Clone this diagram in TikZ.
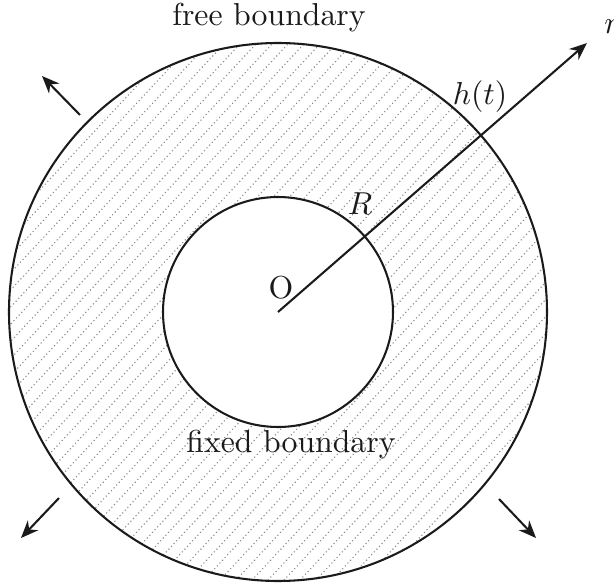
\documentclass[tikz,border=0pt]{standalone}
\usepackage{amsmath,amssymb}
\usepackage{xcolor}
\usepackage{tikz}
\usetikzlibrary{arrows.meta,positioning,calc}
\definecolor{DRAWblack}{HTML}{1A1A1A}
\definecolor{HATCHgray}{HTML}{8A8A8A}
\tikzset{
  rim/.style={DRAWblack, line width=0.65pt},
  hatchline/.style={HATCHgray, line width=0.35pt, dash pattern=on 0.35pt off 0.85pt},
  outarrow/.style={DRAWblack, line width=0.65pt, -{Stealth[length=5.5pt,width=4.5pt]}},
  lbl/.style={DRAWblack, inner sep=0pt}
}
\begin{document}
\begin{tikzpicture}[x=0.315pt,y=0.315pt]
  \useasboundingbox (-278,-271) rectangle (336,312);
  \coordinate (center) at (0,0);
  \begin{scope}[even odd rule]
    \clip (center) circle[radius=269] (center) circle[radius=115];
    \foreach \k in {-24,...,24}
      \draw[hatchline] (\k*16,0) ++(227:420) -- ++(47:840);
  \end{scope}
  \draw[rim] (center) circle[radius=269];
  \draw[rim] (center) circle[radius=115];

  \coordinate (rtip) at (309,269);
  \draw[outarrow] (center) -- (rtip);
  \node[lbl] (rlabel) at (334,285) {$r$};
  \node[lbl] (hlabel) at (202,215) {$h(t)$};
  \node[lbl] (Rlabel) at (82,108) {$R$};
  \node[lbl] (Olabel) at (3,24) {O};
  \node[lbl] (freelabel) at (-9,294) {free boundary};
  \node[lbl] (fixedlabel) at (13,-133) {fixed boundary};

  \coordinate (tlTail) at (-198,197);
  \coordinate (tlTip) at (-236,236);
  \coordinate (blTail) at (-219,-186);
  \coordinate (blTip) at (-257,-226);
  \coordinate (brTail) at (221,-187);
  \coordinate (brTip) at (258,-226);
  \draw[outarrow] (tlTail) -- (tlTip);
  \draw[outarrow] (blTail) -- (blTip);
  \draw[outarrow] (brTail) -- (brTip);
\end{tikzpicture}
\end{document}
